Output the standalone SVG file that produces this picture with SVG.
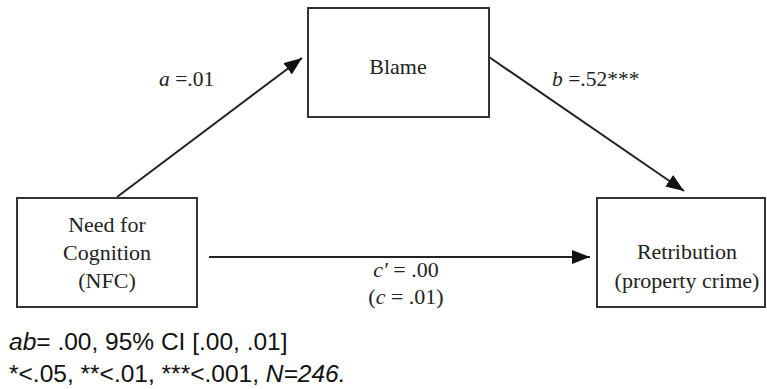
<svg xmlns="http://www.w3.org/2000/svg" width="767" height="389" viewBox="0 0 767 389">
<defs>
<style>
.box{fill:#fff;stroke:#333;stroke-width:2}
.t{font-family:"Liberation Serif","Times New Roman",serif;font-size:22px;fill:#222;text-anchor:middle}
.lab{font-family:"Liberation Serif","Times New Roman",serif;font-size:21.5px;fill:#222}
.foot{font-family:"Liberation Sans",Arial,sans-serif;font-size:24.5px;fill:#111}
.edge{stroke:#222;stroke-width:2;fill:none;marker-end:url(#ah)}
</style>
<marker id="ah" markerUnits="userSpaceOnUse" markerWidth="18" markerHeight="14" viewBox="0 0 18 14" refX="18" refY="7" orient="auto">
<path d="M0,0 L18,7 L0,14 z" fill="#111"/>
</marker>
</defs>
<rect width="767" height="389" fill="#fff"/>
<g id="connectors">
<line class="edge" x1="117" y1="197" x2="302" y2="58"/>
<line class="edge" x1="489" y1="57" x2="684" y2="191"/>
<line class="edge" x1="209" y1="257" x2="590" y2="257"/>
</g>
<g id="nfc">
<rect class="box" x="17" y="198" width="180" height="109"/>
<text class="t" x="107" y="232">Need for</text>
<text class="t" x="107" y="260">Cognition</text>
<text class="t" x="107" y="288">(NFC)</text>
</g>
<g id="blame">
<rect class="box" x="308" y="8" width="181" height="109"/>
<text class="t" x="398" y="74">Blame</text>
</g>
<g id="retribution">
<rect class="box" x="597" y="198" width="168" height="109"/>
<text class="t" x="687" y="259">Retribution</text>
<text class="t" x="687" y="288">(property crime)</text>
</g>
<g id="labels">
<text class="lab" x="159" y="86"><tspan font-style="italic">a</tspan> =.01</text>
<text class="lab" x="552" y="86"><tspan font-style="italic">b</tspan> =.52***</text>
<text class="t" x="406" y="277"><tspan font-style="italic">c′</tspan> = .00</text>
<text class="t" x="406" y="304">(<tspan font-style="italic">c</tspan> = .01)</text>
<text class="foot" x="9" y="350"><tspan font-style="italic">ab</tspan>= .00, 95% CI [.00, .01]</text>
<text class="foot" x="9" y="382">*&lt;.05, **&lt;.01, ***&lt;.001, <tspan font-style="italic">N=246.</tspan></text>
</g>
</svg>
